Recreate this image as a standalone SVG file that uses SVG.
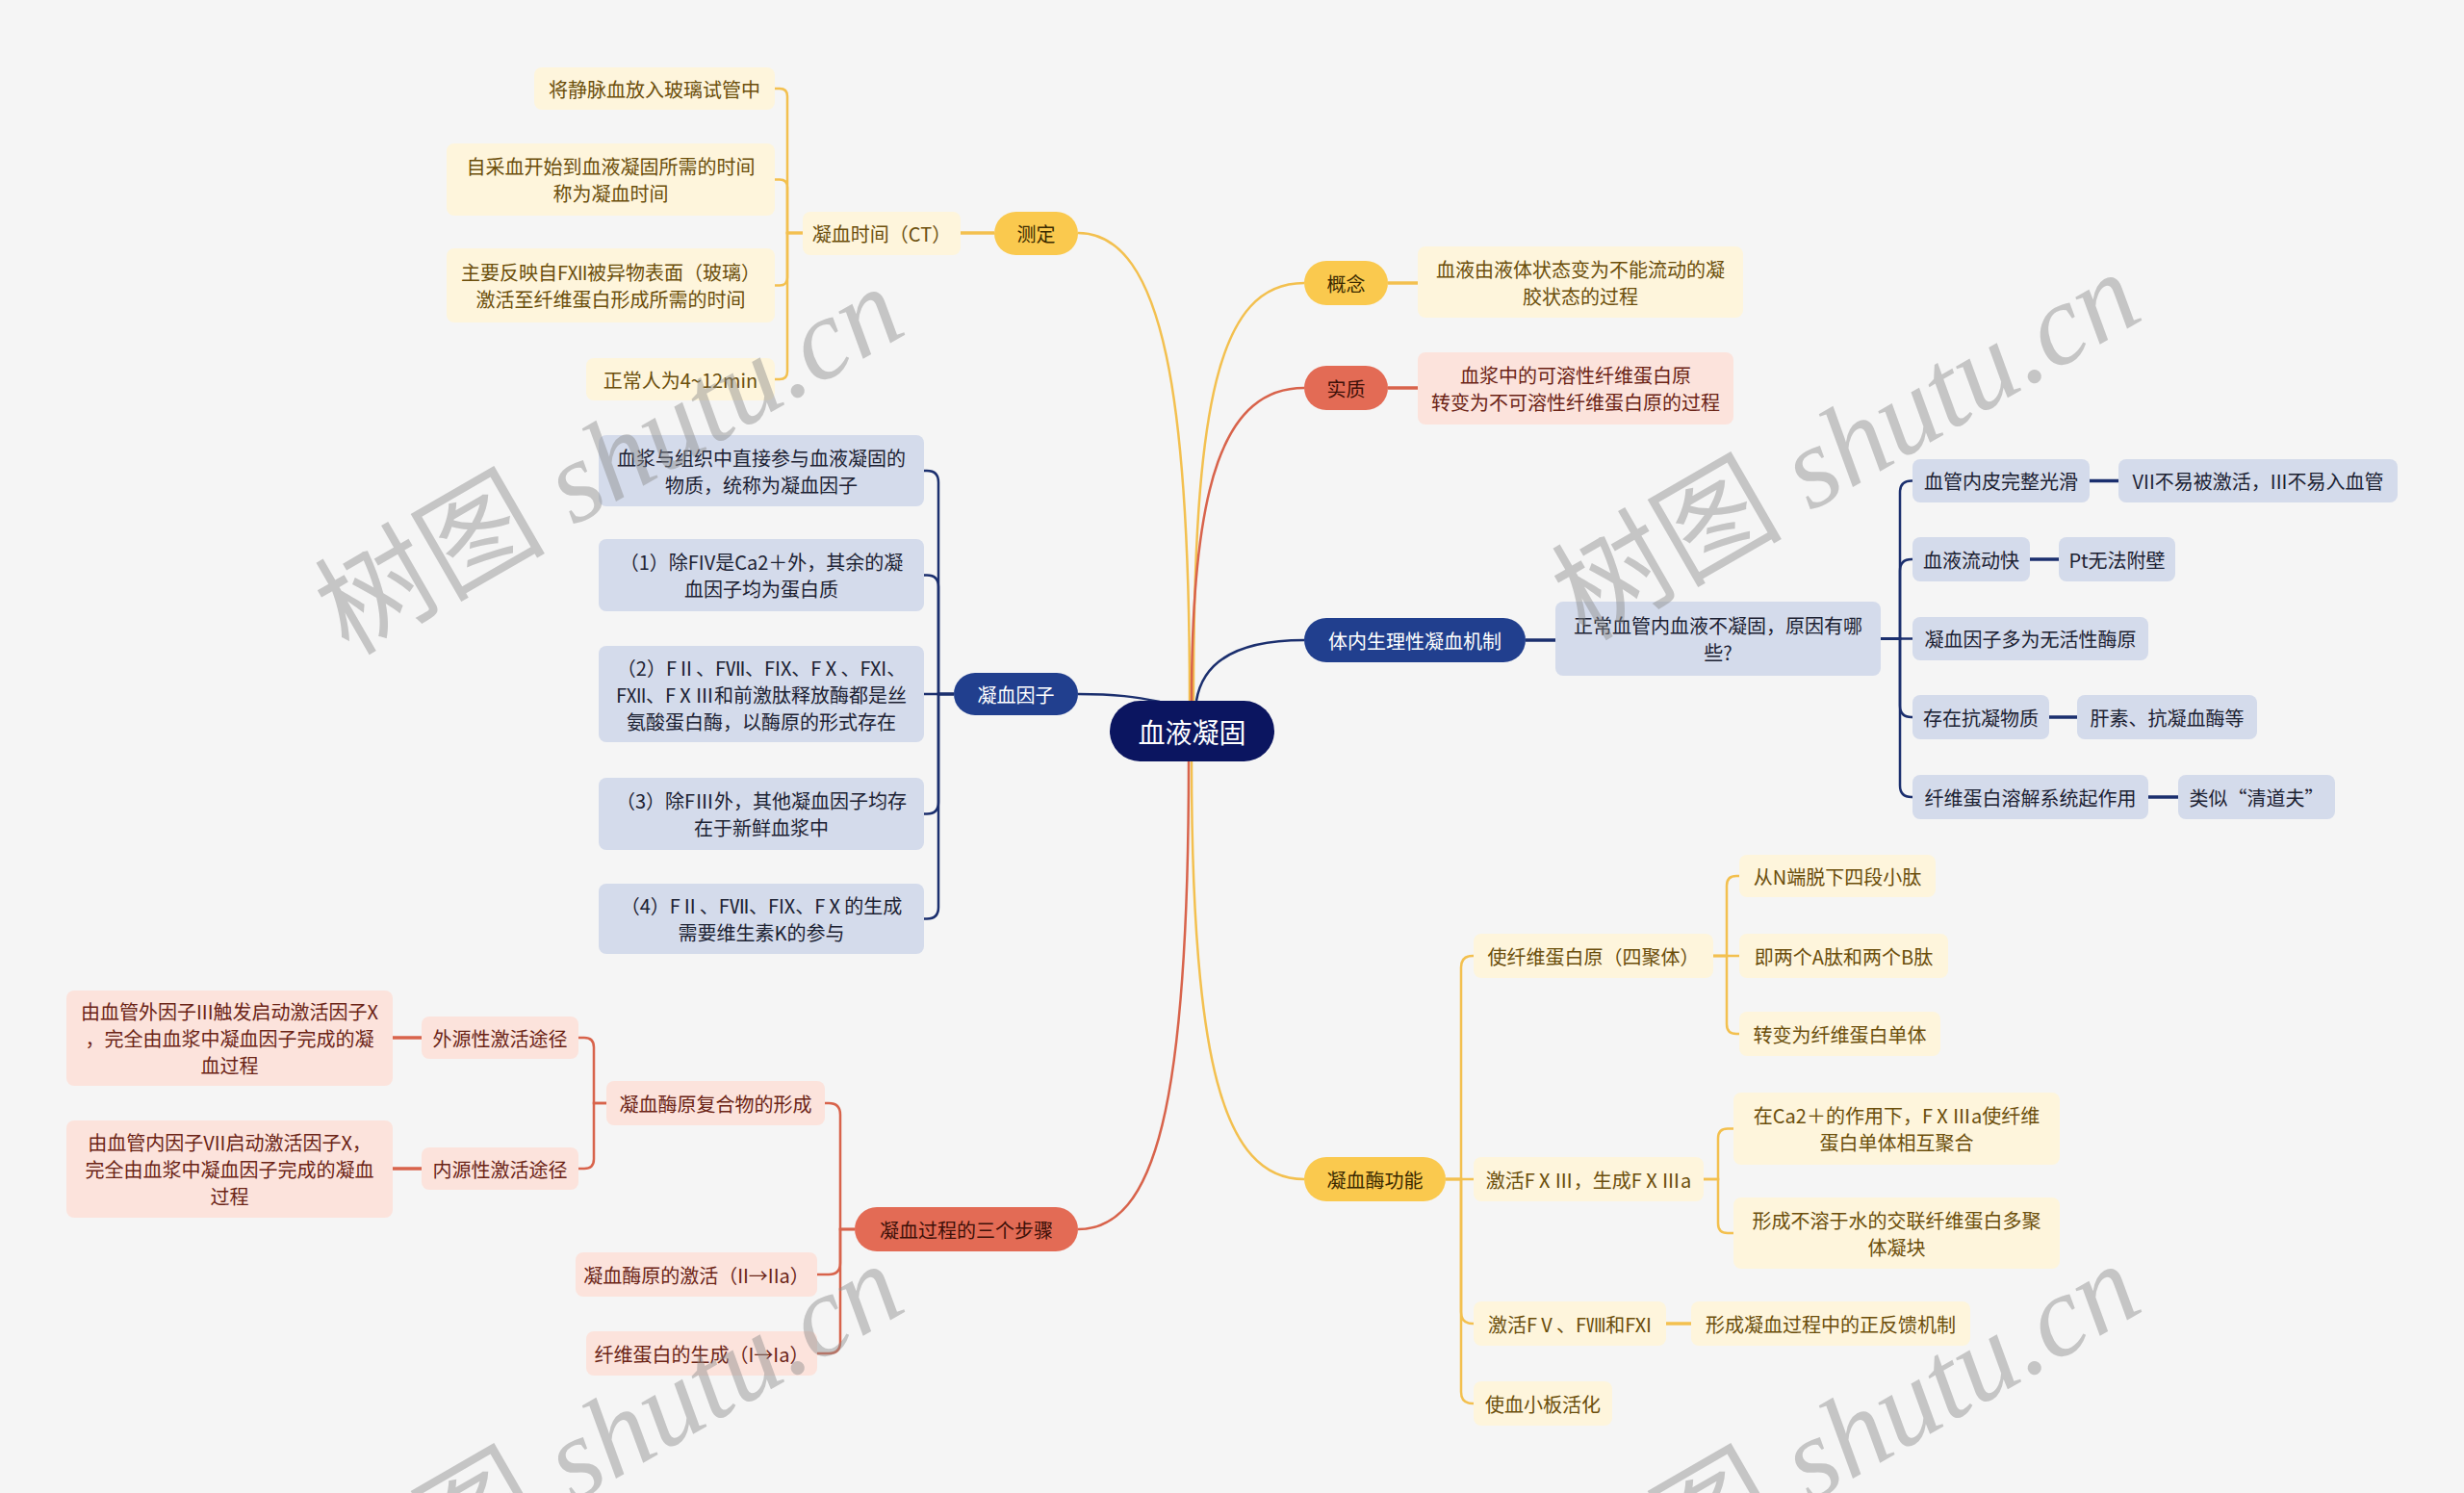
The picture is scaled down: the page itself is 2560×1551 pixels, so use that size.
<svg xmlns="http://www.w3.org/2000/svg" width="2560" height="1551" viewBox="0 0 2560 1551">
<style>
.t{font-family:"Noto Sans CJK SC","Liberation Sans",sans-serif;font-size:20px;text-anchor:middle;dominant-baseline:central}
.ty{fill:#6b4e0b}.tr{fill:#6b2416}.tb{fill:#1c2233}.tmy{fill:#3b2a00}.tmr{fill:#3d1008}.tw{fill:#ffffff}
.my{fill:#fac94e}.mr{fill:#e36b55}.mb{fill:#213f8e}
.ly{fill:#fef5dc}.lr{fill:#fce3dc}.lb{fill:#d4dbeb}
.cy{fill:none;stroke:#f3c04f;stroke-width:2.5}
.cr{fill:none;stroke:#d8634b;stroke-width:2.5}
.cb{fill:none;stroke:#1b2f6e;stroke-width:2.5}
.s{stroke-width:3.5}
.wm{font-family:"Liberation Serif","Noto Sans CJK SC",serif;font-size:120px;fill:#8c8c8c;opacity:0.45;text-anchor:end}
</style>
<rect width="2560" height="1551" fill="#f5f5f5"/>
<g id="connectors">
<path class="cy" d="M1120 242 C1210 242,1236 420,1236 728"/>
<path class="cy" d="M1240 728 C1240 420,1265 294,1355 294"/>
<path class="cr" d="M1238 728 C1238 500,1272 403,1355 403"/>
<path class="cb" d="M1243 728 C1250 685,1290 665,1355 665"/>
<path class="cb" d="M1120 721 C1160 721,1180 724,1205 729"/>
<path class="cy" d="M1238 791 C1238 1100,1270 1225,1355 1225"/>
<path class="cr" d="M1235 791 C1235 1150,1200 1277,1120 1277"/>
<path class="cy s" d="M1033 242 H998"/>
<path class="cy s" d="M1442 294 H1473"/>
<path class="cr s" d="M1442 403 H1473"/>
<path class="cb s" d="M1585 665 H1616"/>
<path class="cr s" d="M438 1078 H408"/>
<path class="cr s" d="M438 1214 H408"/>
<path class="cb s" d="M2171 499.5 H2201"/>
<path class="cb s" d="M2109 581 H2139"/>
<path class="cb s" d="M2129 745 H2158"/>
<path class="cb s" d="M2232 828 H2263"/>
<path class="cy s" d="M1731 1375 H1757"/>
<path class="cy" d="M834 242 H818 V100 Q818 92 810 92 H805"/>
<path class="cy" d="M834 242 H818 V194.5 Q818 186.5 810 186.5 H805"/>
<path class="cy" d="M834 242 H818 V288.5 Q818 296.5 810 296.5 H805"/>
<path class="cy" d="M834 242 H818 V386 Q818 394 810 394 H805"/>
<path class="cb" d="M991 721 H975 V501 Q975 489 963 489 H960"/>
<path class="cb" d="M991 721 H975 V609.5 Q975 597.5 963 597.5 H960"/>
<path class="cb" d="M991 721 H960"/>
<path class="cb" d="M991 721 H975 V833.5 Q975 845.5 963 845.5 H960"/>
<path class="cb" d="M991 721 H975 V942.5 Q975 954.5 963 954.5 H960"/>
<path class="cr" d="M888 1277 H873 V1158 Q873 1146 861 1146 H857"/>
<path class="cr" d="M888 1277 H873 V1312 Q873 1324 861 1324 H849"/>
<path class="cr" d="M888 1277 H873 V1394 Q873 1406 861 1406 H849"/>
<path class="cr" d="M630 1146 H617 V1088 Q617 1078 607 1078 H601"/>
<path class="cr" d="M630 1146 H617 V1204 Q617 1214 607 1214 H601"/>
<path class="cb" d="M1954 663.5 H1974 V511.5 Q1974 499.5 1986 499.5 H1987"/>
<path class="cb" d="M1954 663.5 H1974 V593 Q1974 581 1986 581 H1987"/>
<path class="cb" d="M1954 663.5 H1987"/>
<path class="cb" d="M1954 663.5 H1974 V733 Q1974 745 1986 745 H1987"/>
<path class="cb" d="M1954 663.5 H1974 V816 Q1974 828 1986 828 H1987"/>
<path class="cy" d="M1502 1225 H1518 V1005 Q1518 993 1530 993 H1531"/>
<path class="cy" d="M1502 1225 H1531"/>
<path class="cy" d="M1502 1225 H1518 V1363 Q1518 1375 1530 1375 H1531"/>
<path class="cy" d="M1502 1225 H1518 V1446 Q1518 1458 1530 1458 H1531"/>
<path class="cy" d="M1780 993 H1794 V920 Q1794 910 1804 910 H1807"/>
<path class="cy" d="M1780 993 H1807"/>
<path class="cy" d="M1780 993 H1794 V1064 Q1794 1074 1804 1074 H1807"/>
<path class="cy" d="M1770 1225 H1785 V1182.5 Q1785 1172.5 1795 1172.5 H1801"/>
<path class="cy" d="M1770 1225 H1785 V1271 Q1785 1281 1795 1281 H1801"/>
</g>
<g id="root"><rect x="1153" y="728" width="171" height="63" rx="31.5" fill="#0b1560"/><text class="t tw" x="1238.5" y="759.5" style="font-size:28px">血液凝固</text></g>
<g id="n-ceding"><rect class="my" x="1033" y="220" width="87" height="45" rx="22.5"/><text class="t tmy" x="1076.5" y="242.5">测定</text></g>
<g id="n-ct"><rect class="ly" x="834" y="220" width="164" height="45" rx="8"/><text class="t ty" x="916" y="242.5">凝血时间（CT）</text></g>
<g id="n-ct1"><rect class="ly" x="555" y="70" width="250" height="44" rx="8"/><text class="t ty" x="680" y="92">将静脉血放入玻璃试管中</text></g>
<g id="n-ct2"><rect class="ly" x="464" y="149" width="341" height="75" rx="8"/><text class="t ty" x="634.5" y="172.5">自采血开始到血液凝固所需的时间</text><text class="t ty" x="634.5" y="200.5">称为凝血时间</text></g>
<g id="n-ct3"><rect class="ly" x="464" y="258" width="341" height="77" rx="8"/><text class="t ty" x="634.5" y="282.5">主要反映自FⅫ被异物表面（玻璃）</text><text class="t ty" x="634.5" y="310.5">激活至纤维蛋白形成所需的时间</text></g>
<g id="n-ct4"><rect class="ly" x="609" y="372" width="196" height="44" rx="8"/><text class="t ty" x="707" y="394">正常人为4~12min</text></g>
<g id="n-yzi"><rect class="mb" x="991" y="699" width="129" height="44" rx="22"/><text class="t tw" x="1055.5" y="721">凝血因子</text></g>
<g id="n-yz1"><rect class="lb" x="622" y="452" width="338" height="74" rx="8"/><text class="t tb" x="791" y="475">血浆与组织中直接参与血液凝固的</text><text class="t tb" x="791" y="503">物质，统称为凝血因子</text></g>
<g id="n-yz2"><rect class="lb" x="622" y="560" width="338" height="75" rx="8"/><text class="t tb" x="791" y="583.5">（1）除FIV是Ca2＋外，其余的凝</text><text class="t tb" x="791" y="611.5">血因子均为蛋白质</text></g>
<g id="n-yz3"><rect class="lb" x="622" y="671" width="338" height="100" rx="8"/><text class="t tb" x="791" y="693">（2）FⅡ、FⅦ、FIX、FⅩ、FXI、</text><text class="t tb" x="791" y="721">FⅫ、FⅩⅢ和前激肽释放酶都是丝</text><text class="t tb" x="791" y="749">氨酸蛋白酶，以酶原的形式存在</text></g>
<g id="n-yz4"><rect class="lb" x="622" y="808" width="338" height="75" rx="8"/><text class="t tb" x="791" y="831.5">（3）除FⅢ外，其他凝血因子均存</text><text class="t tb" x="791" y="859.5">在于新鲜血浆中</text></g>
<g id="n-yz5"><rect class="lb" x="622" y="918" width="338" height="73" rx="8"/><text class="t tb" x="791" y="940.5">（4）FⅡ、FⅦ、FIX、FⅩ的生成</text><text class="t tb" x="791" y="968.5">需要维生素K的参与</text></g>
<g id="n-steps"><rect class="mr" x="888" y="1254" width="232" height="46" rx="23"/><text class="t tmr" x="1004" y="1277">凝血过程的三个步骤</text></g>
<g id="n-s1"><rect class="lr" x="630" y="1123" width="227" height="46" rx="8"/><text class="t tr" x="743.5" y="1146">凝血酶原复合物的形成</text></g>
<g id="n-s2"><rect class="lr" x="598" y="1301" width="251" height="46" rx="8"/><text class="t tr" x="723.5" y="1324">凝血酶原的激活（II→IIa）</text></g>
<g id="n-s3"><rect class="lr" x="609" y="1383" width="240" height="46" rx="8"/><text class="t tr" x="729" y="1406">纤维蛋白的生成（I→Ia）</text></g>
<g id="n-wy"><rect class="lr" x="438" y="1056" width="163" height="44" rx="8"/><text class="t tr" x="519.5" y="1078">外源性激活途径</text></g>
<g id="n-ny"><rect class="lr" x="438" y="1192" width="163" height="44" rx="8"/><text class="t tr" x="519.5" y="1214">内源性激活途径</text></g>
<g id="n-wy1"><rect class="lr" x="69" y="1029" width="339" height="99" rx="8"/><text class="t tr" x="238.5" y="1050.5">由血管外因子III触发启动激活因子X</text><text class="t tr" x="238.5" y="1078.5">，完全由血浆中凝血因子完成的凝</text><text class="t tr" x="238.5" y="1106.5">血过程</text></g>
<g id="n-ny1"><rect class="lr" x="69" y="1164" width="339" height="101" rx="8"/><text class="t tr" x="238.5" y="1186.5">由血管内因子VII启动激活因子X，</text><text class="t tr" x="238.5" y="1214.5">完全由血浆中凝血因子完成的凝血</text><text class="t tr" x="238.5" y="1242.5">过程</text></g>
<g id="n-gn"><rect class="my" x="1355" y="271" width="87" height="46" rx="23"/><text class="t tmy" x="1398.5" y="294">概念</text></g>
<g id="n-gn1"><rect class="ly" x="1473" y="256" width="338" height="74" rx="8"/><text class="t ty" x="1642" y="279">血液由液体状态变为不能流动的凝</text><text class="t ty" x="1642" y="307">胶状态的过程</text></g>
<g id="n-sz"><rect class="mr" x="1355" y="380" width="87" height="46" rx="23"/><text class="t tmr" x="1398.5" y="403">实质</text></g>
<g id="n-sz1"><rect class="lr" x="1473" y="366" width="328" height="75" rx="8"/><text class="t tr" x="1637" y="389.5">血浆中的可溶性纤维蛋白原</text><text class="t tr" x="1637" y="417.5">转变为不可溶性纤维蛋白原的过程</text></g>
<g id="n-tn"><rect class="mb" x="1355" y="642" width="230" height="46" rx="23"/><text class="t tw" x="1470" y="665">体内生理性凝血机制</text></g>
<g id="n-tn1"><rect class="lb" x="1616" y="625" width="338" height="77" rx="8"/><text class="t tb" x="1785" y="649.5">正常血管内血液不凝固，原因有哪</text><text class="t tb" x="1785" y="677.5">些?</text></g>
<g id="n-r1"><rect class="lb" x="1987" y="477" width="184" height="45" rx="8"/><text class="t tb" x="2079" y="499.5">血管内皮完整光滑</text></g>
<g id="n-r1a"><rect class="lb" x="2201" y="477" width="290" height="45" rx="8"/><text class="t tb" x="2346" y="499.5">VII不易被激活，III不易入血管</text></g>
<g id="n-r2"><rect class="lb" x="1987" y="558" width="122" height="46" rx="8"/><text class="t tb" x="2048" y="581">血液流动快</text></g>
<g id="n-r2a"><rect class="lb" x="2139" y="558" width="121" height="46" rx="8"/><text class="t tb" x="2199.5" y="581">Pt无法附壁</text></g>
<g id="n-r3"><rect class="lb" x="1987" y="641" width="245" height="45" rx="8"/><text class="t tb" x="2109.5" y="663.5">凝血因子多为无活性酶原</text></g>
<g id="n-r4"><rect class="lb" x="1987" y="722" width="142" height="46" rx="8"/><text class="t tb" x="2058" y="745">存在抗凝物质</text></g>
<g id="n-r4a"><rect class="lb" x="2158" y="722" width="187" height="46" rx="8"/><text class="t tb" x="2251.5" y="745">肝素、抗凝血酶等</text></g>
<g id="n-r5"><rect class="lb" x="1987" y="805" width="245" height="46" rx="8"/><text class="t tb" x="2109.5" y="828">纤维蛋白溶解系统起作用</text></g>
<g id="n-r5a"><rect class="lb" x="2263" y="805" width="163" height="46" rx="8"/><text class="t tb" x="2344.5" y="828">类似“清道夫”</text></g>
<g id="n-nm"><rect class="my" x="1355" y="1202" width="147" height="46" rx="23"/><text class="t tmy" x="1428.5" y="1225">凝血酶功能</text></g>
<g id="n-nm1"><rect class="ly" x="1531" y="970" width="249" height="46" rx="8"/><text class="t ty" x="1655.5" y="993">使纤维蛋白原（四聚体）</text></g>
<g id="n-nm1a"><rect class="ly" x="1807" y="888" width="204" height="44" rx="8"/><text class="t ty" x="1909" y="910">从N端脱下四段小肽</text></g>
<g id="n-nm1b"><rect class="ly" x="1807" y="970" width="217" height="46" rx="8"/><text class="t ty" x="1915.5" y="993">即两个A肽和两个B肽</text></g>
<g id="n-nm1c"><rect class="ly" x="1807" y="1051" width="209" height="46" rx="8"/><text class="t ty" x="1911.5" y="1074">转变为纤维蛋白单体</text></g>
<g id="n-nm2"><rect class="ly" x="1531" y="1202" width="239" height="46" rx="8"/><text class="t ty" x="1650.5" y="1225">激活FⅩⅢ，生成FⅩⅢa</text></g>
<g id="n-nm2a"><rect class="ly" x="1801" y="1135" width="339" height="75" rx="8"/><text class="t ty" x="1970.5" y="1158.5">在Ca2＋的作用下，FⅩⅢa使纤维</text><text class="t ty" x="1970.5" y="1186.5">蛋白单体相互聚合</text></g>
<g id="n-nm2b"><rect class="ly" x="1801" y="1244" width="339" height="74" rx="8"/><text class="t ty" x="1970.5" y="1267">形成不溶于水的交联纤维蛋白多聚</text><text class="t ty" x="1970.5" y="1295">体凝块</text></g>
<g id="n-nm3"><rect class="ly" x="1531" y="1352" width="200" height="46" rx="8"/><text class="t ty" x="1631" y="1375">激活FⅤ、FⅧ和FXI</text></g>
<g id="n-nm3a"><rect class="ly" x="1757" y="1352" width="290" height="46" rx="8"/><text class="t ty" x="1902" y="1375">形成凝血过程中的正反馈机制</text></g>
<g id="n-nm4"><rect class="ly" x="1531" y="1435" width="144" height="46" rx="8"/><text class="t ty" x="1603" y="1458">使血小板活化</text></g>
<g id="watermarks">
<text class="wm" transform="translate(945,345) rotate(-30)">树图 <tspan font-style="italic">shutu.cn</tspan></text>
<text class="wm" transform="translate(2230,330) rotate(-30)">树图 <tspan font-style="italic">shutu.cn</tspan></text>
<text class="wm" transform="translate(945,1360) rotate(-30)">树图 <tspan font-style="italic">shutu.cn</tspan></text>
<text class="wm" transform="translate(2230,1360) rotate(-30)">树图 <tspan font-style="italic">shutu.cn</tspan></text>
</g>
</svg>
